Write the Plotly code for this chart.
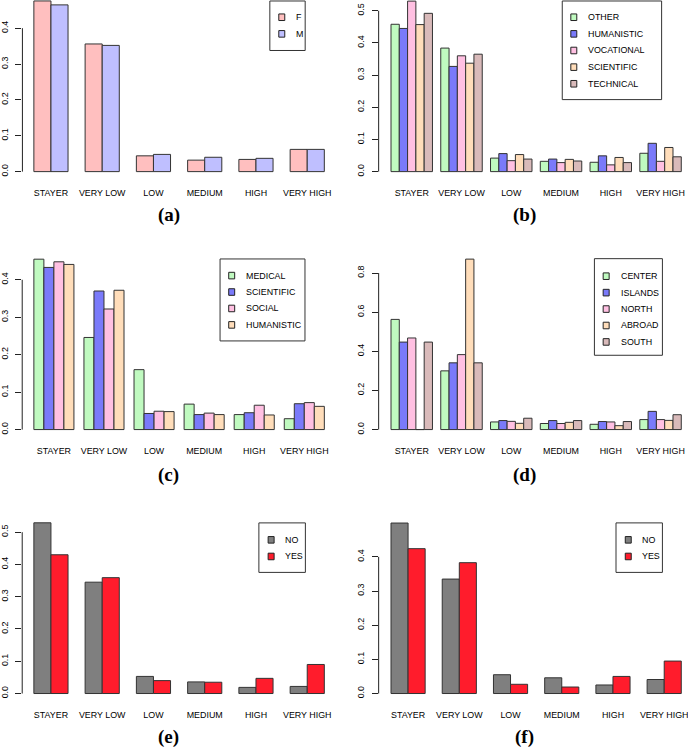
import plotly.graph_objects as go

# ---------------- data ----------------
categories = ["STAYER", "VERY LOW", "LOW", "MEDIUM", "HIGH", "VERY HIGH"]

a_names = ["F", "M"]
a_F = [0.476, 0.356, 0.044, 0.032, 0.034, 0.062]
a_M = [0.465, 0.352, 0.048, 0.040, 0.037, 0.062]

b_names = ["OTHER", "HUMANISTIC", "VOCATIONAL", "SCIENTIFIC", "TECHNICAL"]
b_other = [0.458, 0.384, 0.042, 0.032, 0.029, 0.057]
b_humanistic = [0.445, 0.327, 0.056, 0.039, 0.049, 0.088]
b_vocational = [0.530, 0.360, 0.034, 0.028, 0.021, 0.032]
b_scientific = [0.457, 0.337, 0.053, 0.038, 0.044, 0.075]
b_technical = [0.492, 0.365, 0.039, 0.033, 0.028, 0.046]

c_names = ["MEDICAL", "SCIENTIFIC", "SOCIAL", "HUMANISTIC"]
c_medical = [0.455, 0.246, 0.160, 0.068, 0.040, 0.029]
c_scientific = [0.433, 0.370, 0.043, 0.040, 0.045, 0.069]
c_social = [0.448, 0.322, 0.049, 0.044, 0.065, 0.072]
c_humanistic = [0.441, 0.372, 0.048, 0.040, 0.039, 0.062]

d_names = ["CENTER", "ISLANDS", "NORTH", "ABROAD", "SOUTH"]
d_center = [0.563, 0.300, 0.039, 0.031, 0.027, 0.051]
d_islands = [0.447, 0.341, 0.046, 0.046, 0.041, 0.093]
d_north = [0.468, 0.383, 0.042, 0.031, 0.039, 0.051]
d_abroad = [0.0, 0.871, 0.032, 0.037, 0.020, 0.047]
d_south = [0.447, 0.341, 0.058, 0.046, 0.041, 0.076]

e_names = ["NO", "YES"]
e_no = [0.529, 0.345, 0.053, 0.036, 0.019, 0.022]
e_yes = [0.430, 0.359, 0.040, 0.035, 0.047, 0.090]

f_names = ["NO", "YES"]
f_no = [0.499, 0.335, 0.055, 0.046, 0.025, 0.041]
f_yes = [0.424, 0.383, 0.027, 0.019, 0.050, 0.095]

a_ticks = [0.0, 0.1, 0.2, 0.3, 0.4]
b_ticks = [0.0, 0.1, 0.2, 0.3, 0.4, 0.5]
c_ticks = [0.0, 0.1, 0.2, 0.3, 0.4]
d_ticks = [0.0, 0.2, 0.4, 0.6, 0.8]
e_ticks = [0.0, 0.1, 0.2, 0.3, 0.4, 0.5]
f_ticks = [0.0, 0.1, 0.2, 0.3, 0.4]

panel_labels = ["(a)", "(b)", "(c)", "(d)", "(e)", "(f)"]

# ---------------- styles ----------------
GREEN, BLUE, PINK, PEACH, ROSE = "#C0FAC0", "#7A7AFA", "#FFC0E2", "#FFDDBA", "#D9BABA"
GRAY, RED = "#7F7F7F", "#FF1C2C"

W, H = 688, 751
FONT = "Liberation Sans, Arial, Helvetica, sans-serif"
FS = 8.9

panels = [
    dict(series=[a_F, a_M], names=a_names, colors=["#FFBFBF", "#BFBFFF"], ticks=a_ticks,
         zero=172.3, scale=360, axis_x=19.5, x0=31, w=17.16, top=0, right=336,
         legend=(268, 1, 303.5, 50.7, 17.3, 16.7, 280, 292.3), label=(166.7, 216)),
    dict(series=[b_other, b_humanistic, b_vocational, b_scientific, b_technical], names=b_names,
         colors=[GREEN, BLUE, PINK, PEACH, ROSE], ticks=b_ticks,
         zero=172.3, scale=323, axis_x=377.3, x0=389.7, w=8.33, top=0, right=688,
         legend=(561.7, 1, 661.5, 100, 17.3, 16.7, 573.3, 585.7), label=(524, 216)),
    dict(series=[c_medical, c_scientific, c_social, c_humanistic], names=c_names,
         colors=[GREEN, BLUE, PINK, PEACH], ticks=c_ticks,
         zero=431.3, scale=376, axis_x=19.3, x0=31, w=10.06, top=252, right=336,
         legend=(218, 260, 303.3, 342.3, 276.7, 16.5, 229.7, 241.7), label=(166.7, 476.7)),
    dict(series=[d_center, d_islands, d_north, d_abroad, d_south], names=d_names,
         colors=[GREEN, BLUE, PINK, PEACH, ROSE], ticks=d_ticks,
         zero=431.3, scale=196.5, axis_x=377.3, x0=389.7, w=8.33, top=252, right=688,
         legend=(594, 259.7, 662.3, 356.7, 277.3, 16.5, 605.8, 619), label=(524, 476.7)),
    dict(series=[e_no, e_yes], names=e_names, colors=[GRAY, RED], ticks=e_ticks,
         zero=696.3, scale=324, axis_x=19.3, x0=31, w=17.16, top=505, right=336,
         legend=(257, 525, 303.7, 574.7, 542, 16.7, 269.3, 281), label=(166.7, 740)),
    dict(series=[f_no, f_yes], names=f_names, colors=[GRAY, RED], ticks=f_ticks,
         zero=696.3, scale=343, axis_x=377.3, x0=389.7, w=17.15, top=505, right=688,
         legend=(615.7, 525, 662.3, 574.7, 542, 16.7, 628, 639.7), label=(524, 740)),
]


def px(x):
    return x / W


def py(y):
    return 1 - y / H


fig = go.Figure()
layout = dict(
    width=W, height=H, autosize=False,
    margin=dict(l=0, r=0, t=0, b=0),
    paper_bgcolor="white", plot_bgcolor="rgba(0,0,0,0)",
    showlegend=False, barmode="overlay",
    font=dict(family=FONT, size=FS, color="black"),
)
shapes, annotations = [], []

for i, p in enumerate(panels, start=1):
    n = len(p["series"])
    w = p["w"]
    pitch = (n + 1) * w
    c0 = p["x0"] + n * w / 2
    key = "" if i == 1 else str(i)
    xa, ya = f"x{key}", f"y{key}"
    for j, (vals, name, col) in enumerate(zip(p["series"], p["names"], p["colors"])):
        fig.add_trace(go.Bar(
            x=categories, y=vals, name=name,
            width=1 / (n + 1), offset=-n / (2 * (n + 1)) + j / (n + 1),
            marker=dict(color=col, line=dict(color="#333333", width=1)),
            xaxis=xa, yaxis=ya, showlegend=False, hoverinfo="skip",
        ))
    bottom = p["zero"] + 2
    layout[f"xaxis{key}"] = dict(
        domain=[px(p["axis_x"]), px(p["right"])],
        range=[(p["axis_x"] - c0) / pitch, (p["right"] - c0) / pitch],
        type="category", showgrid=False, zeroline=False, showline=False,
        ticks="outside", ticklen=11, tickcolor="rgba(0,0,0,0)",
        tickfont=dict(family=FONT, size=FS, color="black"),
        anchor=ya, fixedrange=True,
    )
    layout[f"yaxis{key}"] = dict(
        domain=[py(bottom), py(p["top"])],
        range=[(p["zero"] - bottom) / p["scale"], (p["zero"] - p["top"]) / p["scale"]],
        showgrid=False, zeroline=False, showline=False,
        ticks="outside", ticklen=6, tickwidth=1, tickcolor="#222222",
        tickvals=p["ticks"], ticktext=[f"{t:.1f}" for t in p["ticks"]],
        tickangle=-90, tickfont=dict(family=FONT, size=FS, color="black"),
        ticklabelstandoff=4,
        anchor=xa, fixedrange=True,
    )
    # R-style axis line spanning only the tick range
    shapes.append(dict(type="line", xref=f"{xa} domain", yref=ya, x0=0, x1=0,
                       y0=p["ticks"][0], y1=p["ticks"][-1],
                       line=dict(color="#222222", width=1)))
    # legend box
    lx0, ly0, lx1, ly1, ey0, dy, sx, tx = p["legend"]
    shapes.append(dict(type="rect", xref="paper", yref="paper",
                       x0=px(lx0), x1=px(lx1), y0=py(ly1), y1=py(ly0),
                       line=dict(color="#333333", width=1), fillcolor="white"))
    for k, (name, col) in enumerate(zip(p["names"], p["colors"])):
        cy = ey0 + k * dy
        shapes.append(dict(type="rect", xref="paper", yref="paper",
                           x0=px(sx - 3), x1=px(sx + 3), y0=py(cy + 3.3), y1=py(cy - 3.3),
                           line=dict(color="#222222", width=1), fillcolor=col))
        annotations.append(dict(text=name, xref="paper", yref="paper",
                                x=px(tx), y=py(cy), xanchor="left", yanchor="middle",
                                showarrow=False, font=dict(family=FONT, size=FS, color="black")))
    lbx, lby = p["label"]
    annotations.append(dict(text=f"<b>{panel_labels[i-1]}</b>", xref="paper", yref="paper",
                            x=px(lbx), y=py(lby), xanchor="center", yanchor="middle",
                            showarrow=False,
                            font=dict(family="Liberation Serif, Times New Roman, serif",
                                      size=19, color="black")))

layout["shapes"] = shapes
layout["annotations"] = annotations
fig.update_layout(**layout)

fig.write_html("out.html", include_plotlyjs=True,
               config={"displayModeBar": False},
               post_script="document.body.style.margin='0px';")
